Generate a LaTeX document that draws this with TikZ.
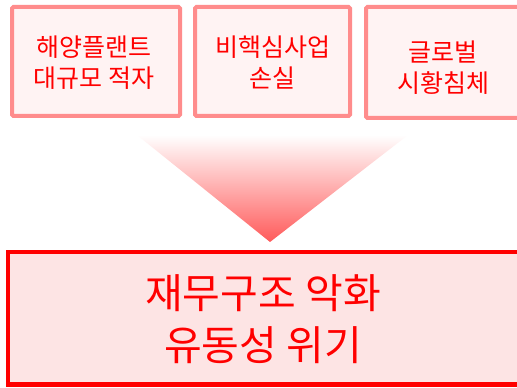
\documentclass[tikz,border=0pt]{standalone}
\usepackage{fontspec}
\setmainfont{Noto Sans CJK KR}
\definecolor{topline}{RGB}{255,140,140}
\definecolor{topfill}{RGB}{255,243,243}
\definecolor{botfill}{RGB}{253,228,228}
\definecolor{arrowred}{RGB}{255,90,90}
\definecolor{txtred}{RGB}{255,0,0}
\tikzset{
  topbox/.style={draw=topline, fill=topfill, line width=4pt, rounded corners=1.5pt, inner sep=0pt},
  botbox/.style={draw=txtred, fill=botfill, line width=4.5pt, inner sep=0pt},
  toptext/.style={text=txtred, align=center, font=\fontsize{25}{31}\selectfont, inner sep=0pt},
  bottext/.style={text=txtred, align=center, font=\fontsize{41}{52}\selectfont, inner sep=0pt}
}
\begin{document}
\begin{tikzpicture}[x=1pt,y=1pt]
\useasboundingbox (0,0) rectangle (517,388);
\fill[white] (0,0) rectangle (517,388);
% top boxes
\node[topbox, minimum width=168pt, minimum height=109pt] (b1) at (96,326.5) {};
\node[topbox, minimum width=155pt, minimum height=109pt] (b2) at (272.5,326.5) {};
\node[topbox, minimum width=159pt, minimum height=111pt] (b3) at (445.5,325.5) {};
\node[toptext] (t1) at (94,325.5) {해양플랜트\\대규모 적자};
\node[toptext] (t2) at (272.5,325.5) {비핵심사업\\손실};
\node[toptext] (t3) at (443,320.5) {글로벌\\시황침체};
% arrow triangle
\shade[top color=white, bottom color=arrowred, shading angle=0] (137,253) -- (408,253) -- (270,146) -- cycle;
% bottom box
\node[botbox, minimum width=517pt, minimum height=132.5pt] (b4) at (266.5,69.75) {};
\node[bottext] (t4) at (263,69) {재무구조 악화\\유동성 위기};
\end{tikzpicture}
\end{document}
